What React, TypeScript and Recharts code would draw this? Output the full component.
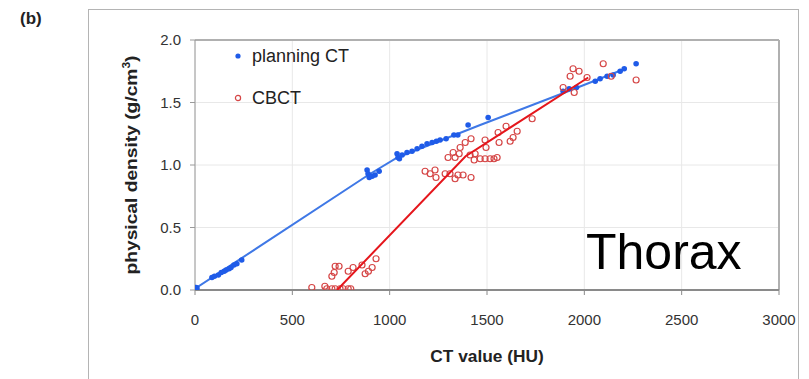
import React from 'react';
import {
  ScatterChart,
  Scatter,
  XAxis,
  YAxis,
  CartesianGrid,
  ReferenceLine,
  Legend,
} from 'recharts';

// Thorax calibration: CT value (HU) vs physical density (g/cm3)

const planningHU = [
  0, 5, 10, 87, 100, 120, 135, 150, 160, 175, 185, 200, 215, 240,
  884, 889, 895, 910, 925, 946,
  1038, 1043, 1050, 1064, 1089, 1115, 1141, 1166, 1192, 1218, 1240, 1259, 1290, 1330, 1350, 1403, 1506,
  1891, 1922, 1960, 2056, 2081, 2117, 2148, 2184, 2205, 2266,
];
const planningDensity = [
  0.01, 0.02, 0.015, 0.1, 0.11, 0.12, 0.14, 0.15, 0.16, 0.17, 0.18, 0.2, 0.21, 0.24,
  0.96, 0.93, 0.9, 0.91, 0.92, 0.95,
  1.09, 1.06, 1.05, 1.08, 1.1, 1.11, 1.13, 1.15, 1.17, 1.18, 1.19, 1.2, 1.21, 1.24, 1.24, 1.32, 1.38,
  1.59, 1.61, 1.62, 1.67, 1.69, 1.71, 1.72, 1.75, 1.77, 1.81,
];

const cbctHU = [
  600, 667, 677, 703, 720, 745, 761, 787, 800, 703, 715, 720, 740, 787, 812, 858, 874, 891, 910, 930,
  1182, 1208, 1233, 1238, 1285, 1310, 1336, 1351, 1377, 1418,
  1300, 1326, 1336, 1357, 1362, 1388, 1418, 1413, 1439, 1434, 1465, 1490, 1516, 1536, 1552,
  1490, 1495, 1557, 1562, 1598, 1619, 1634, 1655, 1732,
  1891, 1927, 1942, 1973, 1948, 2014, 2097, 2138, 2266,
];
const cbctDensity = [
  0.02, 0.03, 0.01, 0.01, 0.01, 0.01, 0.01, 0.01, 0.01, 0.11, 0.14, 0.19, 0.19, 0.15, 0.18, 0.2, 0.13, 0.15, 0.18, 0.25,
  0.95, 0.93, 0.96, 0.9, 0.93, 0.93, 0.89, 0.92, 0.92, 0.9,
  1.06, 1.1, 1.06, 1.09, 1.14, 1.18, 1.21, 1.08, 1.09, 1.04, 1.05, 1.05, 1.05, 1.05, 1.06,
  1.2, 1.14, 1.26, 1.18, 1.31, 1.19, 1.22, 1.27, 1.37,
  1.62, 1.71, 1.77, 1.75, 1.58, 1.7, 1.81, 1.71, 1.68,
];

// fitted calibration curves (vertices)
const planningFitHU = [0, 890, 1040, 1465, 1900, 2210];
const planningFitDensity = [0.01, 0.92, 1.06, 1.32, 1.58, 1.77];
const cbctFitHU = [730, 1390, 2020];
const cbctFitDensity = [0, 1.07, 1.7];

const xTicks = [0, 500, 1000, 1500, 2000, 2500, 3000];
const yTicks = [0, 0.5, 1, 1.5, 2];

const BLUE_DOT = '#1f5be8';
const BLUE_LINE = '#3f78e6';
const RED_DOT = '#d54646';
const RED_LINE = '#e5161c';
const FONT = '"Liberation Sans", Arial, sans-serif';

const zip = (xs: number[], ys: number[]) => xs.map((x, i) => ({ x, y: ys[i] }));

const planningData = zip(planningHU, planningDensity);
const cbctData = zip(cbctHU, cbctDensity);
const planningFit = zip(planningFitHU, planningFitDensity);
const cbctFit = zip(cbctFitHU, cbctFitDensity);

const noShape = () => <g />;

const renderLegend = () => (
  <div style={{ fontFamily: FONT, fontSize: 18, color: '#222' }}>
    <div style={{ display: 'flex', alignItems: 'center', height: 20 }}>
      <svg width={14} height={14} style={{ marginRight: 6 }}>
        <circle cx={6} cy={7} r={2.6} fill={BLUE_DOT} />
      </svg>
      planning CT
    </div>
    <div style={{ display: 'flex', alignItems: 'center', height: 20, marginTop: 22 }}>
      <svg width={14} height={14} style={{ marginRight: 6 }}>
        <circle cx={6} cy={7} r={2.6} fill="none" stroke={RED_DOT} strokeWidth={1.2} />
      </svg>
      CBCT
    </div>
  </div>
);

export default function App() {
  return (
    <div style={{ position: 'absolute', left: 0, top: 0, width: 809, height: 379, background: '#fff', overflow: 'hidden', fontFamily: FONT }}>
      {/* outer frame */}
      <div style={{ position: 'absolute', left: 88, top: 9, width: 709, height: 420, border: '1px solid #b4b4b4' }} />
      <div style={{ position: 'absolute', left: 20, top: 9, fontSize: 17, fontWeight: 'bold', color: '#222' }}>(b)</div>

      <div style={{ position: 'absolute', left: 0, top: 0 }}>
        <ScatterChart width={809} height={379} margin={{ top: 40, right: 30, left: 135, bottom: 59 }}>
          <CartesianGrid stroke="#e8e8e8" strokeWidth={1} />
          <XAxis
            type="number"
            dataKey="x"
            domain={[0, 3000]}
            ticks={xTicks}
            height={30}
            tick={{ fontSize: 15, fill: '#333', fontFamily: FONT }}
            tickSize={5}
            tickMargin={19}
            axisLine={{ stroke: '#8a8a8a', strokeWidth: 2 }}
            tickLine={{ stroke: '#8a8a8a' }}
            allowDataOverflow
          />
          <YAxis
            type="number"
            dataKey="y"
            domain={[0, 2]}
            ticks={yTicks}
            width={60}
            tickFormatter={(v: number) => v.toFixed(1)}
            tick={{ fontSize: 15, fill: '#333', fontFamily: FONT }}
            tickSize={5}
            tickMargin={9}
            axisLine={{ stroke: '#9a9a9a' }}
            tickLine={{ stroke: '#9a9a9a' }}
            allowDataOverflow
          />
          <ReferenceLine y={2} stroke="#b0b0b0" strokeWidth={2} />
          <ReferenceLine x={3000} stroke="#b0b0b0" strokeWidth={2} />
          <Legend
            content={renderLegend}
            layout="vertical"
            align="center"
            verticalAlign="middle"
            wrapperStyle={{ position: 'absolute', left: 232, top: 46, width: 170 }}
          />
          <Scatter data={planningFit} line={{ stroke: BLUE_LINE, strokeWidth: 2 }} shape={noShape} isAnimationActive={false} legendType="none" />
          <Scatter data={planningData} fill={BLUE_DOT} isAnimationActive={false}
            shape={(p: any) => <circle cx={p.cx} cy={p.cy} r={2.8} fill={BLUE_DOT} />} />
          <Scatter data={cbctData} isAnimationActive={false}
            shape={(p: any) => <circle cx={p.cx} cy={p.cy} r={3} fill="none" stroke={RED_DOT} strokeWidth={1.2} />} />
          <Scatter data={cbctFit} line={{ stroke: RED_LINE, strokeWidth: 2 }} shape={noShape} isAnimationActive={false} legendType="none" />
        </ScatterChart>
      </div>

      <div style={{ position: 'absolute', left: 586, top: 224, fontSize: 50, color: '#000', lineHeight: '56px' }}>Thorax</div>

      <div
        style={{
          position: 'absolute',
          left: 131,
          top: 165,
          transform: 'translate(-50%, -50%) rotate(-90deg) scaleX(1.2)',
          whiteSpace: 'nowrap',
          fontSize: 16,
          fontWeight: 'bold',
          color: '#222',
        }}
      >
        physical density (g/cm<sup style={{ fontSize: 10 }}>3</sup>)
      </div>
      <div
        style={{
          position: 'absolute',
          left: 487,
          top: 357,
          transform: 'translate(-50%, -50%) scaleX(1.08)',
          whiteSpace: 'nowrap',
          fontSize: 16,
          fontWeight: 'bold',
          color: '#222',
        }}
      >
        CT value (HU)
      </div>
    </div>
  );
}
